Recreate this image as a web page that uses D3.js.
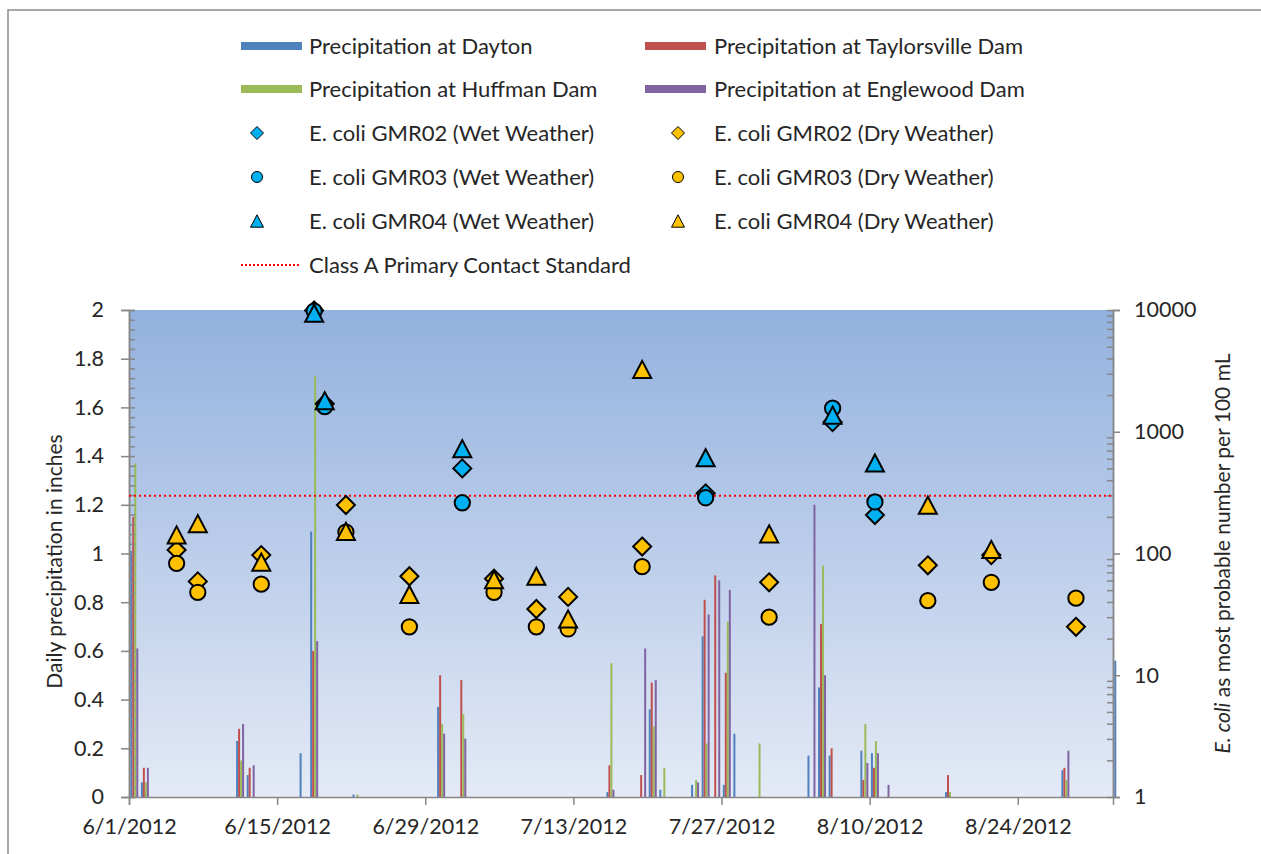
<!DOCTYPE html>
<head>
<meta charset="utf-8">
<script src="https://cdnjs.cloudflare.com/ajax/libs/d3/7.8.5/d3.min.js"></script>
<style>
body{
  margin: 0px;
  background: white;
  font-family: Lato, "Open Sans", Arial, sans-serif;
}
text{
  fill: #262626;
}
</style>
</head>
<body>
<div id="chart"></div>
<script>

// DATA -------------------------------------------------------------

// daily precipitation (inches), one entry per day that had rain
var precipDates = ["6/1/2012","6/2/2012","6/11/2012","6/12/2012","6/17/2012","6/18/2012","6/22/2012",
  "6/30/2012","7/2/2012","7/16/2012","7/19/2012","7/20/2012","7/21/2012","7/24/2012","7/25/2012",
  "7/26/2012","7/27/2012","7/28/2012","7/30/2012","8/4/2012","8/5/2012","8/6/2012","8/9/2012",
  "8/10/2012","8/11/2012","8/17/2012","8/28/2012","9/2/2012"]
var dayton       = [1.01,0.06,0.23,0.09,0.18,1.09,0.01,0.37,0,   0.02,0,   0.36,0.03,0.05,0.66,0,   0.05,0.26,0,   0.17,0.45,0.17,0.19,0.18,0,   0.02,0.11,0.56]
var taylorsville = [1.15,0.12,0.28,0.12,0,   0.60,0,   0.50,0.48,0.13,0.09,0.47,0,   0,   0.81,0.91,0.51,0,   0,   0,   0.71,0.20,0.07,0.12,0,   0.09,0.12,0]
var huffman      = [1.37,0.06,0.15,0,   0,   1.73,0.01,0.30,0.34,0.55,0,   0.29,0.12,0.07,0.22,0,   0.72,0,   0.22,0,   0.95,0,   0.30,0.23,0,   0.02,0.07,0]
var englewood    = [0.61,0.12,0.30,0.13,0,   0.64,0,   0.26,0.24,0.03,0.61,0.48,0,   0.06,0.75,0.89,0.85,0,   0,   1.20,0.50,0,   0.14,0.18,0.05,0,   0.19,0]

var precipNames = ["Precipitation at Dayton","Precipitation at Taylorsville Dam",
  "Precipitation at Huffman Dam","Precipitation at Englewood Dam"]
var precipColors = ["#4f81bd","#c0504d","#9bbb59","#8064a2"]

// E. coli samples (MPN per 100 mL)
var sampleDates = ["6/5/2012","6/7/2012","6/13/2012","6/18/2012","6/19/2012","6/21/2012","6/27/2012",
  "7/2/2012","7/5/2012","7/9/2012","7/12/2012","7/19/2012","7/25/2012","7/31/2012","8/6/2012",
  "8/10/2012","8/15/2012","8/21/2012","8/29/2012"]
var weather = ["dry","dry","dry","wet","wet","dry","dry","wet","dry","dry","dry","dry","wet","dry","wet","wet","dry","dry","dry"]
var gmr02 = [107, 59, 97, 9900,1700,250, 65, 500, 62, 35, 44, 114, 312, 58, 1200,207, 80, 97, 25]
var gmr03 = [83,  48, 56, 9800,1610,150, 25, 261, 48, 25, 24, 78,  287, 30, 1560,265, 41, 58, 43]
var gmr04 = [142, 176,85, 9400,1800,152, 46, 726, 61, 65, 29, 3250,612, 145,1370,554, 249,108,null]

var standard = 298   // Class A primary contact standard

var xTickDates = ["6/1/2012","6/15/2012","6/29/2012","7/13/2012","7/27/2012","8/10/2012","8/24/2012"]
var leftTicks = [0,0.2,0.4,0.6,0.8,1,1.2,1.4,1.6,1.8,2]
var rightTicks = [1,10,100,1000,10000]

var wetColor = "#00b0f0", dryColor = "#ffc000"
// END --------------------------------------------------------------


// SETUP ------------------------------------------------------------
var W = 1261, H = 854
var plot = {left: 129, right: 1113, top: 310, bottom: 797}
var parse = d3.timeParse("%m/%d/%Y")

var svg = d3.select("#chart").append("svg")
  .attr("width", W)
  .attr("height", H)
  .style("display", "block")

// outer chart border (top + left visible)
svg.append("path")
  .attr("d", "M8," + H + "V10H" + W)
  .attr("fill", "none")
  .attr("stroke", "#8c8c8c")
  .attr("stroke-width", 1.5)

var x = d3.scaleTime()
  .domain([parse("6/1/2012"), parse("9/2/2012")])
  .range([plot.left, plot.right])
var dayW = x(parse("6/2/2012")) - x(parse("6/1/2012"))
function xc(s){ return x(parse(s)) + dayW / 2 }

var yL = d3.scaleLinear().domain([0, 2]).range([plot.bottom, plot.top])
var yR = d3.scaleLog().domain([1, 10000]).range([plot.bottom, plot.top])

var series = d3.scaleBand().domain([0,1,2,3]).range([-4, 4]).padding(0)
// END --------------------------------------------------------------


// PLOT BACKGROUND --------------------------------------------------
var grad = svg.append("defs").append("linearGradient")
  .attr("id", "bg").attr("x1", 0).attr("y1", 0).attr("x2", 0).attr("y2", 1)
grad.append("stop").attr("offset", "0%").attr("stop-color", "#93b1de")
grad.append("stop").attr("offset", "100%").attr("stop-color", "#e4eaf6")

svg.append("rect")
  .attr("x", plot.left).attr("y", plot.top)
  .attr("width", plot.right - plot.left)
  .attr("height", plot.bottom - plot.top)
  .attr("fill", "url(#bg)")
// END --------------------------------------------------------------


// BARS -------------------------------------------------------------
var precip = [dayton, taylorsville, huffman, englewood]
precip.forEach(function(vals, s){
  svg.append("g").selectAll("rect")
    .data(precipDates.map(function(d, i){ return {date: d, v: vals[i]} }).filter(function(d){ return d.v > 0 }))
    .enter().append("rect")
      .attr("x", function(d){ return xc(d.date) + series(s) })
      .attr("width", series.bandwidth())
      .attr("y", function(d){ return yL(d.v) })
      .attr("height", function(d){ return yL(0) - yL(d.v) })
      .attr("fill", precipColors[s])
})
// END --------------------------------------------------------------


// AXES -------------------------------------------------------------
var axisColor = "#868686"

// x axis
svg.append("g")
  .attr("transform", "translate(0," + plot.bottom + ")")
  .call(d3.axisBottom(x)
    .tickValues(xTickDates.map(parse))
    .tickFormat(d3.timeFormat("%-m/%-d/%Y"))
    .tickSize(8).tickPadding(14))

// left axis, minor ticks inside
svg.append("g")
  .attr("transform", "translate(" + plot.left + ",0)")
  .call(d3.axisRight(yL).tickValues(d3.range(0, 2.001, 0.04)).tickSize(6).tickFormat(""))
svg.append("g")
  .attr("transform", "translate(" + plot.left + ",0)")
  .call(d3.axisLeft(yL).tickValues(leftTicks).tickFormat(d3.format("~g")).tickSize(8).tickPadding(17))

// right axis, minor ticks inside
var minorR = []
rightTicks.slice(0, -1).forEach(function(t){
  for (var k = 2; k < 10; k++) minorR.push(t * k)
})
svg.append("g")
  .attr("transform", "translate(" + plot.right + ",0)")
  .call(d3.axisLeft(yR).tickValues(minorR).tickSize(6).tickFormat(""))
svg.append("g")
  .attr("transform", "translate(" + plot.right + ",0)")
  .call(d3.axisRight(yR).tickValues(rightTicks).tickFormat(d3.format("d")).tickSize(7).tickPadding(14))

svg.selectAll(".domain").attr("stroke", axisColor).attr("stroke-width", 1.5)
svg.selectAll(".tick line").attr("stroke", axisColor).attr("stroke-width", 1.5)
svg.selectAll(".tick text")
  .attr("fill", "#262626")
  .style("font-family", "Lato, 'Open Sans', Arial, sans-serif")
  .style("font-size", "21.5px")

// axis titles
svg.append("text")
  .attr("transform", "translate(62," + ((plot.top + plot.bottom) / 2 + 8) + ") rotate(-90)")
  .attr("text-anchor", "middle")
  .style("font-size", "21px")
  .text("Daily precipitation in inches")

var rTitle = svg.append("text")
  .attr("transform", "translate(1230," + ((plot.top + plot.bottom) / 2) + ") rotate(-90)")
  .attr("text-anchor", "middle")
  .style("font-size", "21px")
rTitle.append("tspan").style("font-style", "italic").text("E. coli")
rTitle.append("tspan").text(" as most probable number per 100 mL")
// END --------------------------------------------------------------


// STANDARD LINE ----------------------------------------------------
svg.append("line")
  .attr("x1", plot.left).attr("x2", plot.right)
  .attr("y1", yR(standard)).attr("y2", yR(standard))
  .attr("stroke", "#ff0000")
  .attr("stroke-width", 2)
  .attr("stroke-dasharray", "2,3")
// END --------------------------------------------------------------


// MARKERS ----------------------------------------------------------
// diamond, circle, triangle around (0,0)
function markerPath(kind, size){
  if (kind == "gmr02") return "M0," + (-size) + "L" + size + ",0L0," + size + "L" + (-size) + ",0Z"
  if (kind == "gmr03") return d3.arc()({innerRadius: 0, outerRadius: size * 0.85, startAngle: 0, endAngle: 2 * Math.PI})
  var h = size * 0.95
  return "M0," + (-h) + "L" + size + "," + h + "L" + (-size) + "," + h + "Z"
}

var groups = [["gmr02", gmr02], ["gmr03", gmr03], ["gmr04", gmr04]]
groups.forEach(function(g){
  ["wet", "dry"].forEach(function(w){
    svg.append("g").selectAll("path")
      .data(sampleDates.map(function(d, i){ return {date: d, v: g[1][i], w: weather[i]} })
        .filter(function(d){ return d.v != null && d.w == w }))
      .enter().append("path")
        .attr("d", markerPath(g[0], 9))
        .attr("transform", function(d){ return "translate(" + xc(d.date) + "," + yR(d.v) + ")" })
        .attr("fill", w == "wet" ? wetColor : dryColor)
        .attr("stroke", "#000")
        .attr("stroke-width", 2)
  })
})
// END --------------------------------------------------------------


// LEGEND -----------------------------------------------------------
var legend = svg.append("g").style("font-size", "22px")
var colX = [241, 645], textX = [309, 714]
var rowY = [46, 89, 133, 177, 221, 265]

precipNames.forEach(function(n, i){
  var c = i % 2, r = Math.floor(i / 2)
  legend.append("rect")
    .attr("x", colX[c]).attr("y", rowY[r] - 4)
    .attr("width", 61).attr("height", 8)
    .attr("fill", precipColors[i])
  legend.append("text")
    .attr("x", textX[c]).attr("y", rowY[r]).attr("dy", "0.35em")
    .text(n)
})

var markerItems = [["gmr02","GMR02"],["gmr03","GMR03"],["gmr04","GMR04"]]
markerItems.forEach(function(m, r){
  ["wet","dry"].forEach(function(w, c){
    legend.append("path")
      .attr("d", markerPath(m[0], 6.5))
      .attr("transform", "translate(" + (c == 0 ? 257 : 678) + "," + rowY[r + 2] + ")")
      .attr("fill", w == "wet" ? wetColor : dryColor)
      .attr("stroke", "#000")
      .attr("stroke-width", 1)
    legend.append("text")
      .attr("x", textX[c]).attr("y", rowY[r + 2]).attr("dy", "0.35em")
      .text("E. coli " + m[1] + (w == "wet" ? " (Wet Weather)" : " (Dry Weather)"))
  })
})

legend.append("line")
  .attr("x1", 241).attr("x2", 301)
  .attr("y1", rowY[5]).attr("y2", rowY[5])
  .attr("stroke", "#ff0000").attr("stroke-width", 2)
  .attr("stroke-dasharray", "2,2")
legend.append("text")
  .attr("x", textX[0]).attr("y", rowY[5]).attr("dy", "0.35em")
  .text("Class A Primary Contact Standard")
// END --------------------------------------------------------------

</script>
</body>
